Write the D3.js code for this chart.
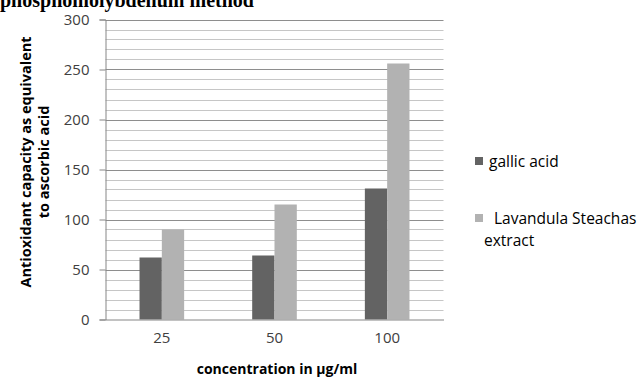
<!DOCTYPE html>
<html>
<head>
<meta charset="utf-8">
<script src="https://cdn.jsdelivr.net/npm/d3@7"></script>
<style>
  html, body { margin: 0; padding: 0; background: #fff; }
  svg { display: block; }
</style>
</head>
<body>
<svg id="chart" width="644" height="381"></svg>
<script>
// Antioxidant capacity by concentration
const categories = ["25", "50", "100"];
const seriesNames = ["gallic acid", "Lavandula Steachas extract"];
const gallicAcid = [62, 64, 131];
const lavandula = [90, 115, 256];
const yTicks = [0, 50, 100, 150, 200, 250, 300];

const colors = ["#636363", "#b2b2b2"];
const svg = d3.select("#chart");
const sans = "'Open Sans', Lato, sans-serif";

const margin = { left: 105.5, right: 443.5, top: 19.5, bottom: 319.5 };

const x = d3.scaleBand().domain(categories).range([margin.left, margin.right]).paddingInner(0).paddingOuter(0);
const y = d3.scaleLinear().domain([0, 300]).range([margin.bottom, margin.top]);

// minor gridlines every 10
const minor = d3.range(10, 300, 10).filter(v => v % 50 !== 0);
svg.append("g").selectAll("line").data(minor).join("line")
  .attr("x1", margin.left).attr("x2", margin.right)
  .attr("y1", d => Math.round(y(d)) + 0.5).attr("y2", d => Math.round(y(d)) + 0.5)
  .attr("stroke", "#c6c6c6").attr("stroke-width", 1);

// major gridlines
svg.append("g").selectAll("line").data(yTicks.filter(v => v > 0)).join("line")
  .attr("x1", margin.left).attr("x2", margin.right)
  .attr("y1", d => Math.round(y(d)) + 0.5).attr("y2", d => Math.round(y(d)) + 0.5)
  .attr("stroke", "#8e8e8e").attr("stroke-width", 1);

// bars: two per category, gap between groups about three bar widths
const groupWidth = x.bandwidth();
const barW = groupWidth / (2 + 3.05);
const seriesData = [gallicAcid, lavandula];
seriesData.forEach((vals, si) => {
  svg.append("g").selectAll("rect").data(vals).join("rect")
    .attr("x", (d, i) => x(categories[i]) + groupWidth / 2 - barW + si * barW)
    .attr("y", d => y(d))
    .attr("width", barW)
    .attr("height", d => y(0) - y(d))
    .attr("fill", colors[si]);
});

// y axis
const yAxis = d3.axisLeft(y).tickValues(yTicks).tickSize(6).tickPadding(10);
const gy = svg.append("g").attr("transform", `translate(${margin.left},0)`).call(yAxis);
gy.select(".domain").attr("stroke", "#868686");
gy.selectAll(".tick line").attr("stroke", "#868686");
gy.selectAll(".tick text").attr("fill", "#404040")
  .style("font-family", sans).style("font-size", "15px");

// x axis
const xAxis = d3.axisBottom(x).tickSize(0).tickPadding(13);
const gx = svg.append("g").attr("transform", `translate(0,${margin.bottom})`).call(xAxis);
gx.select(".domain").attr("stroke", "#868686");
gx.selectAll(".tick text").attr("fill", "#404040")
  .style("font-family", sans).style("font-size", "15px");

// axis titles
svg.append("text")
  .attr("x", 277).attr("y", 374)
  .attr("text-anchor", "middle")
  .style("font-family", sans).style("font-size", "14px").style("font-weight", "bold")
  .attr("fill", "#000")
  .text("concentration in µg/ml");

const yTitle = svg.append("text")
  .attr("transform", "translate(0,162) rotate(-90)")
  .attr("text-anchor", "middle")
  .style("font-family", sans).style("font-size", "14.5px").style("font-weight", "bold")
  .attr("fill", "#000");
yTitle.append("tspan").attr("x", 0).attr("y", 31).text("Antioxidant capacity as equivalent");
yTitle.append("tspan").attr("x", 0).attr("y", 49).text("to ascorbic acid");

// legend
svg.append("rect").attr("x", 475).attr("y", 157).attr("width", 8).attr("height", 8).attr("fill", colors[0]);
svg.append("text").attr("x", 489).attr("y", 167)
  .style("font-family", sans).style("font-size", "15.5px").attr("fill", "#000")
  .text(seriesNames[0]);

svg.append("rect").attr("x", 475).attr("y", 214).attr("width", 8).attr("height", 8).attr("fill", colors[1]);
const leg2 = svg.append("text")
  .style("font-family", sans).style("font-size", "15.5px").attr("fill", "#000");
leg2.append("tspan").attr("x", 494).attr("y", 224).text("Lavandula Steachas");
leg2.append("tspan").attr("x", 484).attr("y", 246).text("extract");

// title, clipped at the top edge
svg.append("text")
  .attr("x", 0).attr("y", 7)
  .style("font-family", "'Liberation Serif', 'Times New Roman', serif").style("font-size", "20px").style("font-weight", "bold")
  .attr("fill", "#000")
  .text("phosphomolybdenum method");
</script>
</body>
</html>
